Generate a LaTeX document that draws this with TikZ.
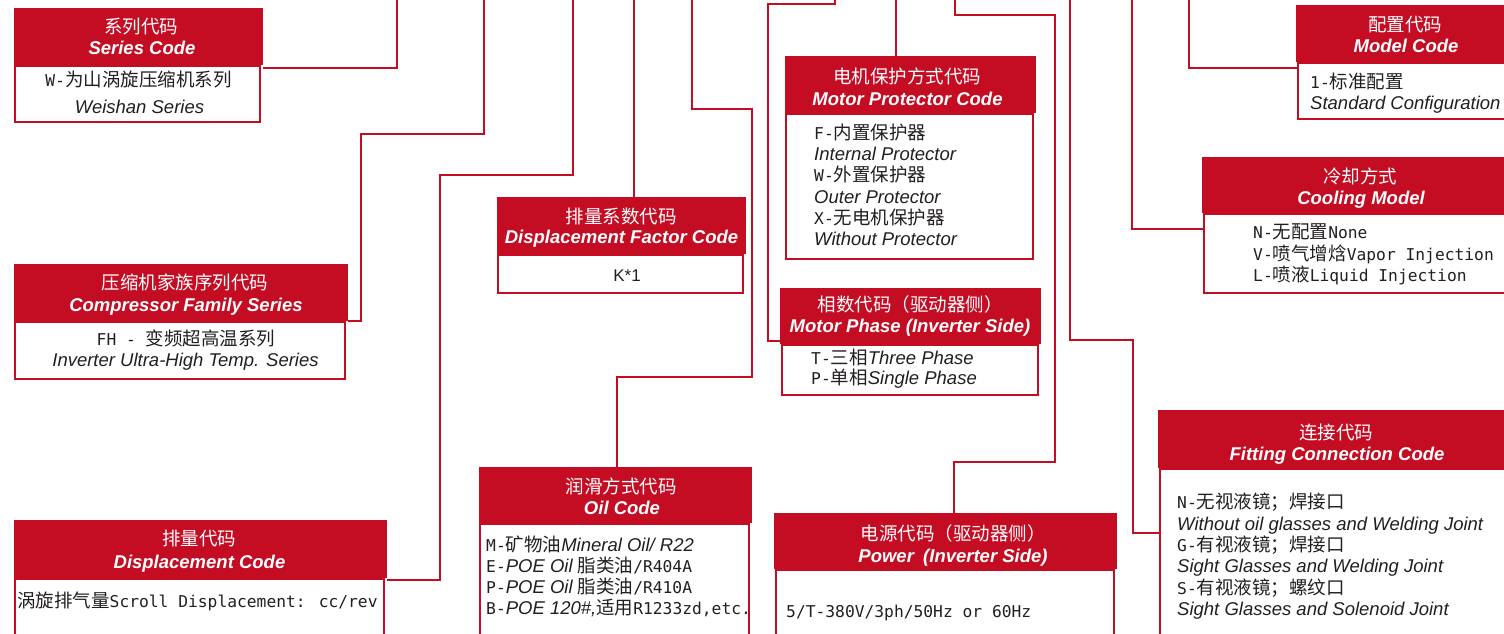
\documentclass[tikz,border=0pt]{standalone}
\usepackage{fontspec}
\setmainfont{Liberation Sans}
\newfontfamily\cjk{Noto Sans CJK SC}
\newfontfamily\zmono[Scale=0.88]{DejaVu Sans Mono}
\newfontfamily\arial{Liberation Sans}
\definecolor{cred}{RGB}{196,12,35}
\definecolor{txtc}{RGB}{35,31,32}
\newcommand\zM[1]{{\zmono #1}}
\newcommand\zC[1]{{\cjk #1}}
\newcommand\zI[1]{{\arial\itshape #1}}
\tikzset{
  hbox/.style={fill=cred, draw=none, inner sep=0pt, outer sep=0pt, anchor=north west},
  bbox/.style={draw=cred, line width=2pt, fill=white, inner sep=0pt, outer sep=0pt, anchor=north west},
  conn/.style={draw=cred, line width=2.4pt},
  hcj/.style={text=white, font=\cjk\fontsize{18.5}{22}\selectfont, anchor=base, inner sep=0pt},
  hen/.style={text=white, font=\arial\bfseries\itshape\fontsize{18.5}{22}\selectfont, anchor=base, inner sep=0pt},
  btxt/.style={text=txtc, font=\fontsize{18.5}{22}\selectfont, anchor=base west, inner sep=0pt},
  bctr/.style={btxt, anchor=base}
}
\begin{document}
\begin{tikzpicture}[x=1pt, y=-1pt]
\useasboundingbox (0,0) rectangle (1504,634);
\fill[white] (0,0) rectangle (1504,634);
\clip (0,0) rectangle (1504,634);

% ---------- boxes: bodies ----------
\node[bbox, minimum width=245pt, minimum height=56pt]  (bSer) at (15,66) {};
\node[bbox, minimum width=330pt, minimum height=57pt]  (bFam) at (15,322) {};
\node[bbox, minimum width=369pt, minimum height=81pt]  (bDis) at (15,579) {};
\node[bbox, minimum width=245pt, minimum height=38pt]  (bFac) at (498,255) {};
\node[bbox, minimum width=269pt, minimum height=136pt] (bOil) at (480,524) {};
\node[bbox, minimum width=247pt, minimum height=145pt] (bPro) at (786,114) {};
\node[bbox, minimum width=256pt, minimum height=50pt]  (bPha) at (782,345) {};
\node[bbox, minimum width=338pt, minimum height=90pt]  (bPow) at (776,570) {};
\node[bbox, minimum width=215pt, minimum height=56pt]  (bMod) at (1298,63) {};
\node[bbox, minimum width=311pt, minimum height=79pt]  (bCoo) at (1204,214) {};
\node[bbox, minimum width=353pt, minimum height=191pt] (bFit) at (1160,469) {};

% ---------- boxes: headers ----------
\node[hbox, minimum width=249pt, minimum height=57pt] (hSer) at (14,8) {};
\node[hbox, minimum width=334pt, minimum height=57pt] (hFam) at (14,264) {};
\node[hbox, minimum width=373pt, minimum height=58pt] (hDis) at (14,520) {};
\node[hbox, minimum width=249pt, minimum height=57pt] (hFac) at (497,197) {};
\node[hbox, minimum width=273pt, minimum height=56pt] (hOil) at (479,467) {};
\node[hbox, minimum width=251pt, minimum height=57pt] (hPro) at (785,56) {};
\node[hbox, minimum width=261pt, minimum height=56pt] (hPha) at (780,288) {};
\node[hbox, minimum width=343pt, minimum height=56pt] (hPow) at (774,513) {};
\node[hbox, minimum width=220pt, minimum height=57pt] (hMod) at (1296,5) {};
\node[hbox, minimum width=316pt, minimum height=56pt] (hCoo) at (1202,157) {};
\node[hbox, minimum width=358pt, minimum height=58pt] (hFit) at (1158,410) {};

% ---------- connectors ----------
\coordinate (tSer) at (397,-5);
\coordinate (tFam) at (484,-5);  \coordinate (kFam) at (361,134);
\coordinate (tDis) at (573,-5);  \coordinate (kDis) at (440,175);
\coordinate (tFac) at (634,-5);
\coordinate (tOil) at (692,-5);  \coordinate (kOil1) at (752,109); \coordinate (kOil2) at (617,377);
\coordinate (tPro) at (896,-5);
\coordinate (tPha) at (835,-5);  \coordinate (kPha) at (768,4);
\coordinate (tPow) at (955,-5);  \coordinate (kPow1) at (1055,15); \coordinate (kPow2) at (954,462);
\coordinate (tFit) at (1070,-5); \coordinate (kFit1) at (1133,340); \coordinate (kFit2) at (1133,533);
\coordinate (tCoo) at (1132,-5);
\coordinate (tMod) at (1189,-5);

\draw[conn] (tSer) |- ([yshift=-3pt]hSer.south east);
\draw[conn] (tFam) |- (kFam) |- (hFam.south east);
\draw[conn] (tDis) |- (kDis) |- ([yshift=-2pt]hDis.south east);
\draw[conn] (tFac) -- (tFac |- hFac.north);
\draw[conn] (tOil) |- (kOil1) |- (kOil2) -- (kOil2 |- hOil.north);
\draw[conn] (tPro) -- (tPro |- hPro.north);
\draw[conn] (tPha) |- (kPha) |- ([yshift=3pt]hPha.south west);
\draw[conn] (tPow) |- (kPow1) |- (kPow2) -- (kPow2 |- hPow.north);
\draw[conn] (tFit) |- (kFit1) -- (kFit2) -- (kFit2 -| bFit.west);
\draw[conn] (tCoo) |- ([yshift=-15pt]bCoo.north west);
\draw[conn] (tMod) |- ([yshift=-5pt]bMod.north west);

% ---------- header texts ----------
\node[hcj] (hSer1) at (141,33.7) {系列代码};
\node[hen] (hSer2) at (142,54.7) {Series Code};
\node[hcj] (hFam1) at (185,289.7) {压缩机家族序列代码};
\node[hen] (hFam2) at (186,311.7) {Compressor Family Series};
\node[hcj] (hDis1) at (199,545.7) {排量代码};
\node[hen] (hDis2) at (199.5,568.7) {Displacement Code};
\node[hcj] (hFac1) at (621,223.7) {排量系数代码};
\node[hen] (hFac2) at (621.5,243.7) {Displacement Factor Code};
\node[hcj] (hOil1) at (621,493.7) {润滑方式代码};
\node[hen] (hOil2) at (622,514.7) {Oil Code};
\node[hcj] (hPro1) at (907,83.7) {电机保护方式代码};
\node[hen] (hPro2) at (907.5,105.7) {Motor Protector Code};
\node[hcj] (hPha1) at (910,311.7) {相数代码（驱动器侧）};
\node[hen] (hPha2) at (910,332.7) {Motor Phase (Inverter Side)};
\node[hcj] (hPow1) at (953,540.7) {电源代码（驱动器侧）};
\node[hen] (hPow2) at (953,562.7) {Power\hspace{0.5em}(Inverter Side)};
\node[hcj] (hMod1) at (1405,31.7) {配置代码};
\node[hen] (hMod2) at (1406,52.7) {Model Code};
\node[hcj] (hCoo1) at (1360,183.7) {冷却方式};
\node[hen] (hCoo2) at (1361,204.7) {Cooling Model};
\node[hcj] (hFit1) at (1336,439.7) {连接代码};
\node[hen] (hFit2) at (1337,460.7) {Fitting Connection Code};

% ---------- body texts ----------
\node[bctr] (tSer1) at (138.5,86.7) {\zM{W-}\zC{为山涡旋压缩机系列}};
\node[bctr] (tSer2) at (139.5,113.7) {\zI{Weishan Series}};

\node[bctr] (tFam1) at (186,345.7) {\zM{FH - }\zC{变频超高温系列}};
\node[bctr] (tFam2) at (185.5,366.7) {\zI{Inverter Ultra-High Temp. Series}};

\node[btxt] (tDis1) at (17,607.7) {\zC{涡旋排气量}\zM{Scroll Displacement: cc/rev}};

\node[bctr, font=\arial\fontsize{17}{20}\selectfont] (tFac1) at (627,281.7) {K*1};

\node[btxt] (tOil1) at (486,551.7) {\zM{M-}\zC{矿物油}\zI{Mineral Oil/ R22}};
\node[btxt] (tOil2) at (486,572.7) {\zM{E-}\zI{POE Oil }\zC{脂类油}\zM{/R404A}};
\node[btxt] (tOil3) at (486,593.7) {\zM{P-}\zI{POE Oil }\zC{脂类油}\zM{/R410A}};
\node[btxt] (tOil4) at (486,614.7) {\zM{B-}\zI{POE 120\#,}\zC{适用}\zM{R1233zd,etc.}};

\node[btxt] (tPro1) at (814,139.7) {\zM{F-}\zC{内置保护器}};
\node[btxt] (tPro2) at (814,160.7) {\zI{Internal Protector}};
\node[btxt] (tPro3) at (814,181.7) {\zM{W-}\zC{外置保护器}};
\node[btxt] (tPro4) at (814,203.7) {\zI{Outer Protector}};
\node[btxt] (tPro5) at (814,224.7) {\zM{X-}\zC{无电机保护器}};
\node[btxt] (tPro6) at (814,245.7) {\zI{Without Protector}};

\node[btxt] (tPha1) at (811,364.7) {\zM{T-}\zC{三相}\zI{Three Phase}};
\node[btxt] (tPha2) at (811,384.7) {\zM{P-}\zC{单相}\zI{Single Phase}};

\node[btxt] (tPow1) at (786,617.7) {\zM{5/T-380V/3ph/50Hz or 60Hz}};

\node[btxt] (tMod1) at (1310,88.7) {\zM{1-}\zC{标准配置}};
\node[btxt] (tMod2) at (1310,109.7) {\zI{Standard Configuration}};

\node[btxt] (tCoo1) at (1253,238.7) {\zM{N-}\zC{无配置}\zM{None}};
\node[btxt] (tCoo2) at (1253,260.7) {\zM{V-}\zC{喷气增焓}\zM{Vapor Injection}};
\node[btxt] (tCoo3) at (1253,281.7) {\zM{L-}\zC{喷液}\zM{Liquid Injection}};

\node[btxt] (tFit1) at (1177,508.7) {\zM{N-}\zC{无视液镜；焊接口}};
\node[btxt] (tFit2) at (1177,530.7) {\zI{Without oil glasses and Welding Joint}};
\node[btxt] (tFit3) at (1177,551.7) {\zM{G-}\zC{有视液镜；焊接口}};
\node[btxt] (tFit4) at (1177,572.7) {\zI{Sight Glasses and Welding Joint}};
\node[btxt] (tFit5) at (1177,594.7) {\zM{S-}\zC{有视液镜；螺纹口}};
\node[btxt] (tFit6) at (1177,615.7) {\zI{Sight Glasses and Solenoid Joint}};
\end{tikzpicture}
\end{document}
